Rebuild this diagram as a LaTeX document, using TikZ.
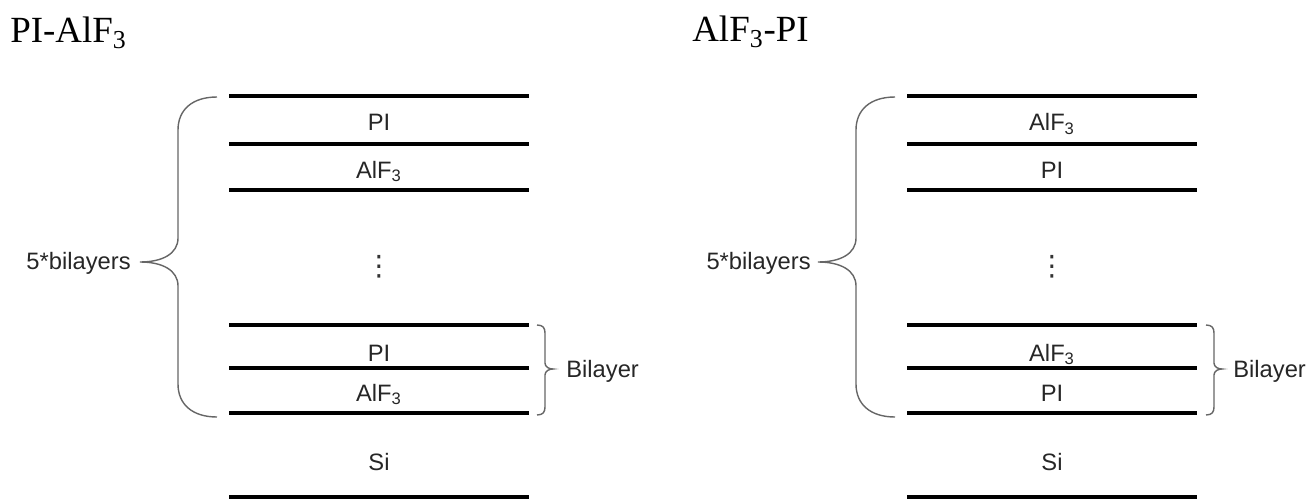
\documentclass[tikz,border=0pt]{standalone}
\usepackage{fontspec}
\setmainfont{Liberation Serif}
\setsansfont{Liberation Sans}
\newfontfamily\dotsfont{DejaVu Sans}
\tikzset{
	layer_line/.style = {
		line width=2pt,
		black
	},
	layer_text/.style = {
		anchor=base,
		inner sep=0pt,
		font=\sffamily\fontsize{13.5}{16}\selectfont,
		text=black!85
	},
	note_text/.style = {
		layer_text
	},
	dots_text/.style = {
		anchor=center,
		inner sep=0pt,
		font=\dotsfont\fontsize{16}{18}\selectfont,
		text=black!80
	},
	title_text/.style = {
		anchor=base west,
		inner sep=0pt,
		font=\rmfamily\fontsize{21}{25}\selectfont
	},
	brace_line/.style = {
		line width=0.8pt,
		black!60
	}
}

\begin{document}
\begin{tikzpicture}[x=0.02cm, y=-0.02cm]
\useasboundingbox (0,0) rectangle (1315,500);

% left stack: PI on AlF3
\node [title_text] (title_l) at (10,43) {PI-AlF\textsubscript{3}};
\draw [layer_line] (229,96) -- (529,96);
\draw [layer_line] (229,144) -- (529,144);
\draw [layer_line] (229,190) -- (529,190);
\draw [layer_line] (229,325) -- (529,325);
\draw [layer_line] (229,368) -- (529,368);
\draw [layer_line] (229,413) -- (529,413);
\draw [layer_line] (229,497) -- (529,497);
\node [layer_text] (pi_l1) at (379,131) {PI};
\node [layer_text] (alf_l1) at (379,178) {AlF\textsubscript{3}};
\node [dots_text] (dots_l) at (379,267) {⋮};
\node [layer_text] (pi_l2) at (379,361) {PI};
\node [layer_text] (alf_l2) at (379,401) {AlF\textsubscript{3}};
\node [layer_text] (si_l) at (379,470) {Si};
\coordinate (big_l_top) at (217,97);
\coordinate (big_l_tip) at (140,262);
\draw [brace_line] (big_l_top)
	.. controls +(-25,0) and +(0,-20) .. ++(-39,33)
	-- ++(0,108)
	.. controls +(0,16) and +(22,0) .. (big_l_tip)
	.. controls +(22,0) and +(0,-16) .. ++(38,24)
	-- ++(0,98)
	.. controls +(0,20) and +(-25,0) .. ++(39,33);
\node [note_text, anchor=base east] (five_l) at ([xshift=-9*0.02cm, yshift=-7*0.02cm]big_l_tip) {5*bilayers};
\coordinate (bi_l_top) at (537,325);
\coordinate (bi_l_tip) at (553,369);
\draw [brace_line] (bi_l_top)
	.. controls +(6,0) and +(0,-5) .. ++(8,8)
	-- ++(0,30)
	.. controls +(0,4) and +(-4,0) .. (bi_l_tip)
	.. controls +(-4,0) and +(0,-4) .. ++(-8,6)
	-- ++(0,32)
	.. controls +(0,5) and +(6,0) .. ++(-8,8);
\node [note_text, anchor=base west] (bilayer_l) at ([xshift=13*0.02cm, yshift=-8*0.02cm]bi_l_tip) {Bilayer};

% right stack: AlF3 on PI
\node [title_text] (title_r) at (692,42) {AlF\textsubscript{3}-PI};
\draw [layer_line] (907,96) -- (1197,96);
\draw [layer_line] (907,144) -- (1197,144);
\draw [layer_line] (907,190) -- (1197,190);
\draw [layer_line] (907,325) -- (1197,325);
\draw [layer_line] (907,368) -- (1197,368);
\draw [layer_line] (907,413) -- (1197,413);
\draw [layer_line] (907,497) -- (1197,497);
\node [layer_text] (alf_r1) at (1052,131) {AlF\textsubscript{3}};
\node [layer_text] (pi_r1) at (1052,178) {PI};
\node [dots_text] (dots_r) at (1052,267) {⋮};
\node [layer_text] (alf_r2) at (1052,361) {AlF\textsubscript{3}};
\node [layer_text] (pi_r2) at (1052,401) {PI};
\node [layer_text] (si_r) at (1052,470) {Si};
\coordinate (big_r_top) at (895,97);
\coordinate (big_r_tip) at (818,262);
\draw [brace_line] (big_r_top)
	.. controls +(-25,0) and +(0,-20) .. ++(-39,33)
	-- ++(0,108)
	.. controls +(0,16) and +(22,0) .. (big_r_tip)
	.. controls +(22,0) and +(0,-16) .. ++(38,24)
	-- ++(0,98)
	.. controls +(0,20) and +(-25,0) .. ++(39,33);
\node [note_text, anchor=base east] (five_r) at ([xshift=-7*0.02cm, yshift=-7*0.02cm]big_r_tip) {5*bilayers};
\coordinate (bi_r_top) at (1206,325);
\coordinate (bi_r_tip) at (1222,369);
\draw [brace_line] (bi_r_top)
	.. controls +(6,0) and +(0,-5) .. ++(8,8)
	-- ++(0,30)
	.. controls +(0,4) and +(-4,0) .. (bi_r_tip)
	.. controls +(-4,0) and +(0,-4) .. ++(-8,6)
	-- ++(0,32)
	.. controls +(0,5) and +(6,0) .. ++(-8,8);
\node [note_text, anchor=base west] (bilayer_r) at ([xshift=11*0.02cm, yshift=-8*0.02cm]bi_r_tip) {Bilayer};
\end{tikzpicture}
\end{document}
